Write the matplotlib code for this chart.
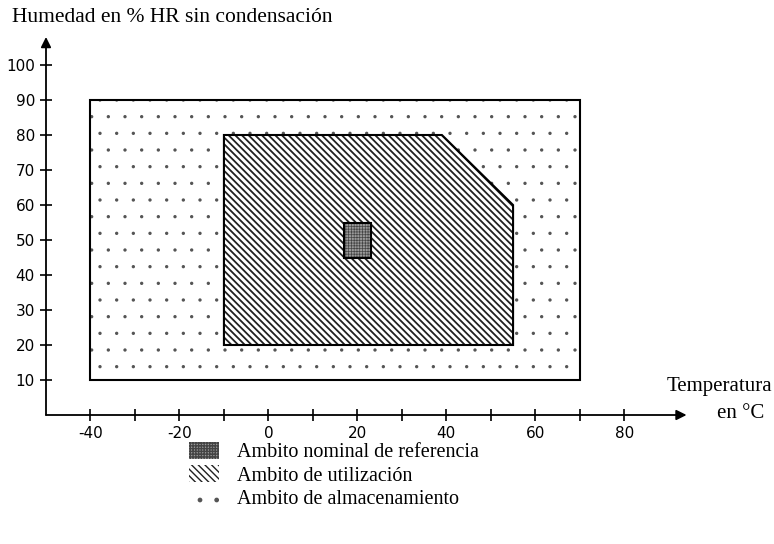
import matplotlib
matplotlib.use('Agg')
import matplotlib.pyplot as plt
from matplotlib.patches import Polygon, Patch

# Regions (temperature degC, humidity %RH)
storage_temp = [-40, 70, 70, -40]
storage_hum = [10, 10, 90, 90]
operating_temp = [-10, -10, 39, 55, 55]
operating_hum = [20, 80, 80, 60, 20]
reference_temp = [17, 23, 23, 17]
reference_hum = [45, 45, 55, 55]

x_ticks = list(range(-40, 81, 10))
x_labels = [str(t) if t % 20 == 0 else '' for t in x_ticks]
y_ticks = list(range(10, 101, 10))

legend_labels = ['Ambito nominal de referencia',
                 'Ambito de utilización',
                 'Ambito de almacenamiento']

serif = 'Liberation Serif'
DOTS, DIAG, CHECK = '.', '\\\\\\\\\\', '++++++'
DOT_C, DIAG_C, CHECK_C, CHECK_FC = '#555555', '#202020', '#444444', '#9a9a9a'


def region(ax, xs, ys, fc, hatch, hc, hlw):
    pts = list(zip(xs, ys))
    with plt.rc_context({'hatch.linewidth': hlw}):
        ax.add_patch(Polygon(pts, closed=True, facecolor=fc, edgecolor=hc,
                             lw=0, hatch=hatch))
    ax.add_patch(Polygon(pts, closed=True, fill=False, edgecolor='black', lw=1.5))


fig = plt.figure(figsize=(7.74, 5.44), dpi=100)
W, H = 774, 544
ax = fig.add_axes([46 / W, (H - 415) / H, 645 / W, 385 / H])
ax.set_xlim(-50, 95)
ax.set_ylim(0, 110)

region(ax, storage_temp, storage_hum, 'white', DOTS, DOT_C, 0.0)
region(ax, operating_temp, operating_hum, 'white', DIAG, DIAG_C, 1.3)
region(ax, reference_temp, reference_hum, CHECK_FC, CHECK, CHECK_C, 0.5)

for s in ax.spines.values():
    s.set_visible(False)
ax.annotate('', xy=(94, 0), xytext=(-50, 0),
            arrowprops=dict(arrowstyle='-|>', color='black', lw=1.3,
                            mutation_scale=15, shrinkA=0, shrinkB=0))
ax.annotate('', xy=(-50, 108), xytext=(-50, 0),
            arrowprops=dict(arrowstyle='-|>', color='black', lw=1.3,
                            mutation_scale=15, shrinkA=0, shrinkB=0))

ax.set_xticks(x_ticks)
ax.set_xticklabels(x_labels)
ax.set_yticks(y_ticks)
ax.tick_params(direction='inout', length=8, width=1.2, labelsize=11, pad=4)

fig.text(12 / W, 1 - 18 / H, 'Humedad en % HR sin condensación',
         family=serif, fontsize=15.5, va='center', ha='left')
fig.text(772 / W, 1 - 386 / H, 'Temperatura', family=serif, fontsize=15,
         va='center', ha='right')
fig.text(764 / W, 1 - 414 / H, 'en °C', family=serif, fontsize=15,
         va='center', ha='right')

with plt.rc_context({'hatch.linewidth': 1.2}):
    handles = [
        Patch(facecolor=CHECK_FC, edgecolor=CHECK_C, lw=0, hatch=CHECK),
        Patch(facecolor='white', edgecolor=DIAG_C, lw=0, hatch=DIAG),
        Patch(facecolor='white', edgecolor=DOT_C, lw=0, hatch=DOTS),
    ]
fig.legend(handles, legend_labels, loc='upper left',
           bbox_to_anchor=(171 / W, 1 - 424 / H), frameon=False,
           prop={'family': serif, 'size': 14.5}, handlelength=1.5,
           handleheight=0.9, labelspacing=0.15, handletextpad=0.9)

fig.savefig('out.png', dpi=100)
